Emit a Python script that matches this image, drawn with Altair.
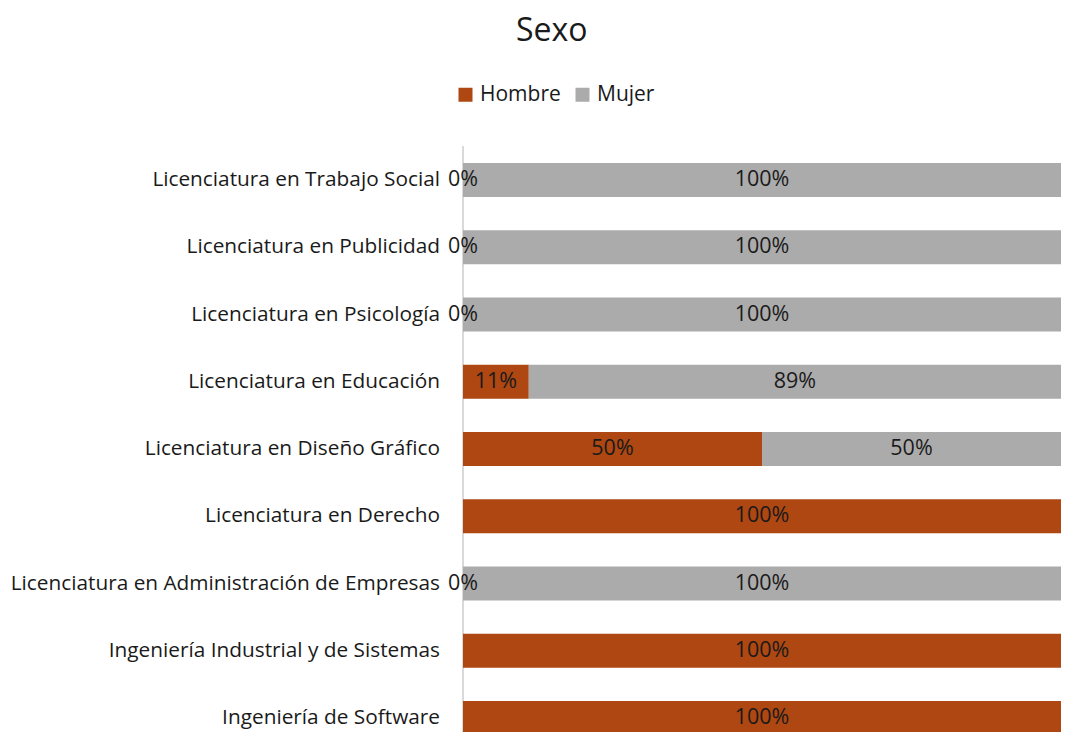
import altair as alt
import pandas as pd

programas = [
    "Licenciatura en Trabajo Social",
    "Licenciatura en Publicidad",
    "Licenciatura en Psicología",
    "Licenciatura en Educación",
    "Licenciatura en Diseño Gráfico",
    "Licenciatura en Derecho",
    "Licenciatura en Administración de Empresas",
    "Ingeniería Industrial y de Sistemas",
    "Ingeniería de Software",
]
hombre = [0, 0, 0, 11, 50, 100, 0, 100, 100]
mujer = [100, 100, 100, 89, 50, None, 100, None, None]
series = ["Hombre", "Mujer"]
colores = ["#AE4711", "#ABABAB"]

rows = []
for i, p in enumerate(programas):
    for k, (s, vals) in enumerate(zip(series, [hombre, mujer])):
        v = vals[i]
        if v is None:
            continue
        rows.append({"programa": p, "idx": i, "sexo": s, "ord": k, "valor": v})
df = pd.DataFrame(rows)
cats = pd.DataFrame({"programa": programas, "idx": list(range(len(programas)))})

W, H = 598, 586
FONT = "Open Sans"
TXT = "#1a1a1a"

yscale = alt.Scale(domain=[-0.5056, 8.2081], reverse=True, zero=False, nice=False, padding=0)
yenc = alt.Y("idx:Q", scale=yscale, axis=None)

base = alt.Chart(df).transform_stack(
    stack="valor", groupby=["idx"], as_=["v0", "v1"],
    sort=[alt.SortField("ord", order="ascending")]
).transform_calculate(mid="(datum.v0 + datum.v1) / 2")

xscale = alt.Scale(domain=[0, 100], nice=False, padding=0)

axis_line = alt.Chart(cats).mark_rule(color="#D9D9D9", strokeWidth=1.5).encode(
    x=alt.value(0), y=alt.value(0), y2=alt.value(H + 10)
)

bars = base.mark_bar(size=34, orient="horizontal", clip=True).encode(
    x=alt.X("v0:Q", scale=xscale, axis=None),
    x2="v1:Q",
    y=yenc,
    color=alt.Color(
        "sexo:N",
        scale=alt.Scale(domain=series, range=colores),
        legend=alt.Legend(
            title=None, orient="none", direction="horizontal",
            legendX=-8, legendY=-62,
            symbolType="square", symbolSize=196, symbolStrokeWidth=0,
            labelFont=FONT, labelFontSize=21, labelColor=TXT,
            labelOffset=4, columnPadding=11,
        ),
    ),
)

bar_text = base.mark_text(font=FONT, fontSize=21.5, color=TXT, baseline="middle", align="center").encode(
    x=alt.X("mid:Q", scale=xscale),
    y=yenc,
    text=alt.Text("label:N"),
).transform_calculate(label="datum.valor + '%'")

cat_text = alt.Chart(cats).mark_text(font=FONT, fontSize=20.8, color=TXT, align="right", baseline="middle").encode(
    x=alt.value(-23),
    y=yenc,
    text="programa:N",
)

chart = alt.layer(axis_line, bars, bar_text, cat_text).properties(
    width=W, height=H,
    title=alt.TitleParams("Sexo", anchor="start", frame="group", dx=53, offset=36,
                          font=FONT, fontSize=32, fontWeight="normal", color=TXT),
    autosize=alt.AutoSizeParams(type="none"),
    padding={"left": 455, "top": 138, "right": 0, "bottom": 0},
).configure_view(stroke=None)

chart.save("out.html", embed_options={"renderer": "svg", "actions": False})
